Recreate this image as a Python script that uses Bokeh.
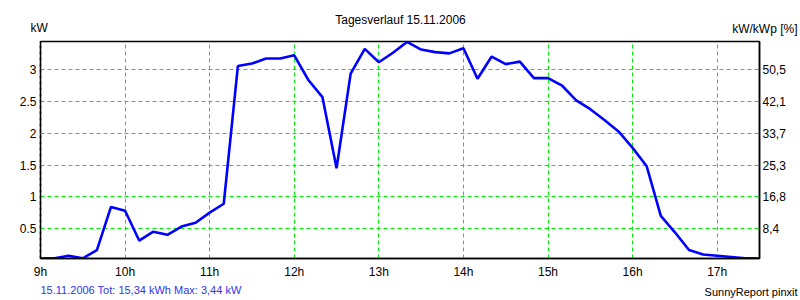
from bokeh.plotting import figure
from bokeh.models import LinearAxis, FixedTicker, Range1d
from bokeh.layouts import column
from bokeh.core.properties import value
from bokeh.embed import file_html
from bokeh.resources import INLINE

# time in decimal hours (10-minute samples) and power in kW
times = [9 + i / 6 for i in range(52)]
power_kw = [0.03, 0.03, 0.07, 0.03, 0.16, 0.84,
            0.78, 0.31, 0.45, 0.40, 0.53, 0.59,
            0.75, 0.89, 3.06, 3.10, 3.18, 3.18,
            3.23, 2.84, 2.57, 1.45, 2.94, 3.33,
            3.12, 3.27, 3.44, 3.32, 3.28, 3.26,
            3.34, 2.86, 3.21, 3.09, 3.13, 2.87,
            2.87, 2.75, 2.52, 2.38, 2.21, 2.03,
            1.77, 1.48, 0.70, 0.44, 0.16, 0.09,
            0.07, 0.05, 0.03, 0.03]

hour_ticks = [9, 10, 11, 12, 13, 14, 15, 16, 17]
hour_labels = ["9h", "10h", "11h", "12h", "13h", "14h", "15h", "16h", "17h"]
kw_ticks = [0.5, 1.0, 1.5, 2.0, 2.5, 3.0]
kw_labels = ["0.5", "1", "1.5", "2", "2.5", "3"]
pct_labels = ["8,4", "16,8", "25,3", "33,7", "42,1", "50,5"]

title_text = "Tagesverlauf 15.11.2006"
left_unit = "kW"
right_unit = "kW/kWp [%]"
footer_text = "15.11.2006 Tot: 15,34 kWh Max: 3,44 kW"
credit_text = "SunnyReport pinxit"

FONT = "Liberation Sans"


def strip(h):
    s = figure(width=800, height=h, output_backend="svg", toolbar_location=None,
               x_range=Range1d(0, 800), y_range=Range1d(0, h),
               x_axis_location=None, y_axis_location=None,
               min_border=0, outline_line_color=None, frame_align=False,
               background_fill_color="white", border_fill_color="white")
    s.grid.visible = False
    return s


def txt(fig, x, y, t, align="left", color="#000000", size="12px"):
    fig.text(x=[x], y=[y], text=[t], text_font=value(FONT),
             text_font_size=value(size), text_color=color,
             text_align=align, text_baseline="middle")


# top strip: title and unit labels
top = strip(39)
txt(top, 400, 20, title_text, align="center")
txt(top, 30, 12, left_unit)
txt(top, 797, 11, right_unit, align="right")

# main chart
p = figure(width=800, height=242, output_backend="svg", toolbar_location=None,
           x_range=Range1d(9, 17.5), y_range=Range1d(0.027, 3.447),
           min_border_left=40, min_border_right=41, min_border_top=2,
           min_border_bottom=22, background_fill_color="white",
           border_fill_color="white", outline_line_color="black",
           outline_line_width=1.5, frame_align=False)

p.line(times, power_kw, line_color="#0000ff", line_width=2.6)

xa = p.xaxis[0]
xa.ticker = FixedTicker(ticks=hour_ticks)
xa.major_label_overrides = {t: l for t, l in zip(hour_ticks, hour_labels)}
ya = p.yaxis[0]
ya.ticker = FixedTicker(ticks=kw_ticks)
ya.major_label_overrides = {t: l for t, l in zip(kw_ticks, kw_labels)}

ra = LinearAxis(ticker=FixedTicker(ticks=kw_ticks))
ra.major_label_overrides = {t: l for t, l in zip(kw_ticks, pct_labels)}
p.add_layout(ra, "right")

for ax in [xa, ya, ra]:
    ax.major_tick_line_color = None
    ax.minor_tick_line_color = None
    ax.major_tick_out = 0
    ax.major_tick_in = 0
    ax.minor_tick_out = 0
    ax.minor_tick_in = 0
    ax.axis_line_color = "black"
    ax.axis_line_width = 1.5
    ax.major_label_text_font = FONT
    ax.major_label_text_font_size = "12px"
    ax.major_label_text_color = "#000000"
xa.major_label_standoff = 6
ya.major_label_standoff = 4
ra.major_label_standoff = 3
ya.axis_line_dash = "3 3"

for g in [p.xgrid[0], p.ygrid[0]]:
    g.grid_line_color = "#00ee00"
    g.grid_line_dash = "4 3"
    g.grid_line_width = 1
p.xgrid[0].ticker = FixedTicker(ticks=hour_ticks)
p.ygrid[0].ticker = FixedTicker(ticks=kw_ticks)

# bottom strip: footer
bottom = strip(19)
txt(bottom, 40, 11, footer_text, color="#3333ee", size="11px")
txt(bottom, 797, 9, credit_text, align="right", size="11px")

layout = column(top, p, bottom, spacing=0)
open("out.html", "w").write(file_html(layout, INLINE))
